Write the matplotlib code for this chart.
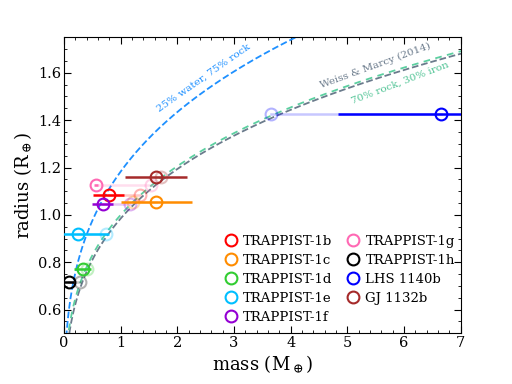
import numpy as np
import matplotlib
matplotlib.use("Agg")
import matplotlib.pyplot as plt
from matplotlib.lines import Line2D
from matplotlib.ticker import MultipleLocator

plt.rcParams['font.family'] = ['DejaVu Serif']
plt.rcParams['mathtext.fontset'] = 'dejavuserif'

# ---- data ----
names = ['TRAPPIST-1b', 'TRAPPIST-1c', 'TRAPPIST-1d', 'TRAPPIST-1e', 'TRAPPIST-1f',
         'TRAPPIST-1g', 'TRAPPIST-1h', 'LHS 1140b', 'GJ 1132b']
colors = ['#ff0000', '#ff8c00', '#32cd32', '#00bfff', '#9400d3',
          '#ff69b4', '#000000', '#0000ff', '#a52a2a']
mass = [0.79, 1.63, 0.33, 0.24, 0.68, 0.566, 0.086, 6.65, 1.62]
mass_err = [0.27, 0.63, 0.15, 0.56, 0.18, 0.038, 0.084, 1.82, 0.55]
radius = [1.086, 1.056, 0.772, 0.918, 1.045, 1.127, 0.715, 1.425, 1.16]
# mass each planet would have on the 70% rock / 30% iron curve (faded markers)
earthlike_mass = [1.34, 1.22, 0.41, 0.74, 1.17, 1.54, 0.29, 3.65, 1.71]

# model curve parameters
rock_coef, rock_exp = 1.0, 0.27        # 70% rock, 30% iron
water_coef, water_exp = 1.183, 0.278   # 25% water, 75% rock
wm_a, wm_b, rho_earth = 2.43, 3.39, 5.51  # Weiss & Marcy (2014)

fig = plt.figure(figsize=(5.12, 3.84), dpi=100)
ax = fig.add_axes([0.125, 0.132, 0.775, 0.771])

m = np.linspace(0.001, 7.5, 800)
ax.plot(m, water_coef * m ** water_exp, ls='--', color='#1e90ff', lw=1.3, zorder=2)
r = np.linspace(0.3, 1.8, 400)
ax.plot((wm_a + wm_b * r) * r ** 3 / rho_earth, r, ls='--', color='#6b7b8c', lw=1.3, zorder=2)
ax.plot(m, rock_coef * m ** rock_exp, ls=(3, (3.7, 3.0)), color='#5ccfa0', lw=1.3, zorder=2)

for i in range(len(names)):
    c = colors[i]
    ax.plot([earthlike_mass[i], mass[i]], [radius[i], radius[i]], color=c, alpha=0.22,
            lw=1.8, zorder=3)
    ax.plot(earthlike_mass[i], radius[i], 'o', mfc='none', mec=c, alpha=0.3,
            ms=8.5, mew=1.5, zorder=3)
for i in range(len(names)):
    c = colors[i]
    ax.errorbar(mass[i], radius[i], xerr=mass_err[i], fmt='o', mfc='none', mec=c,
                ecolor=c, ms=8.5, mew=1.5, elinewidth=1.8, capsize=0, zorder=4)

ax.set_xlim(0, 7)
ax.set_ylim(0.5, 1.75)
ax.xaxis.set_major_locator(MultipleLocator(1))
ax.xaxis.set_minor_locator(MultipleLocator(0.2))
ax.yaxis.set_major_locator(MultipleLocator(0.2))
ax.yaxis.set_minor_locator(MultipleLocator(0.05))
ax.tick_params(which='both', direction='in', top=True, right=True, labelsize=10.5, pad=2)
ax.tick_params(which='major', length=5)
ax.tick_params(which='minor', length=2.5)

ax.set_xlabel(r'mass (M$_\oplus$)', fontsize=13, labelpad=2)
ax.set_ylabel(r'radius (R$_\oplus$)', fontsize=13, labelpad=3)

ax.text(2.47, 1.58, '25% water, 75% rock', color='#1e90ff', fontsize=7.5,
        rotation=35, ha='center', va='center')
ax.text(5.50, 1.629, 'Weiss & Marcy (2014)', color='#6b7b8c', fontsize=7.5,
        rotation=20, ha='center', va='center')
ax.text(5.92, 1.556, '70% rock, 30% iron', color='#4fc394', fontsize=7.5,
        rotation=21, ha='center', va='center')

handles = [Line2D([], [], ls='none', marker='o', mfc='none', mec=c, ms=8.5, mew=1.5)
           for c in colors]
ax.legend(handles, names, loc='lower left', ncol=2, frameon=False, fontsize=9.5,
          handlelength=1.0, handletextpad=0.41, columnspacing=1.1, labelspacing=0.45,
          borderpad=0, borderaxespad=0, bbox_to_anchor=(0.404, 0.033))

fig.savefig('out.png', dpi=100)
